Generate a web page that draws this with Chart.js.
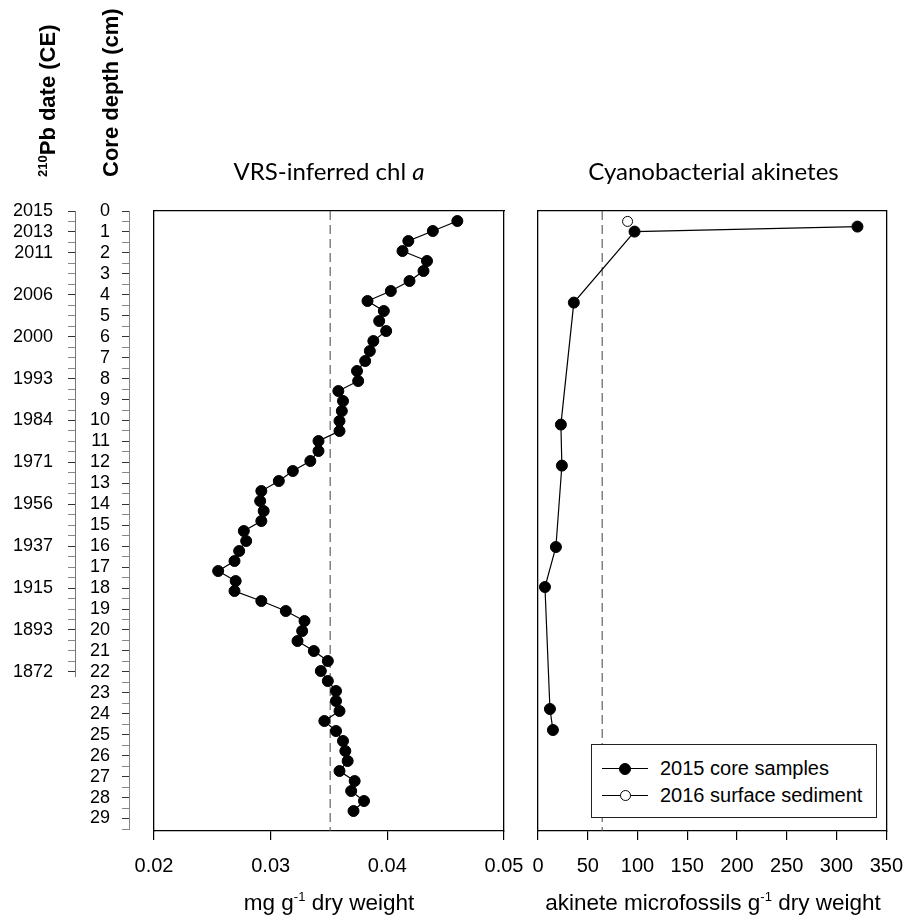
<!DOCTYPE html>
<html>
<head>
<meta charset="utf-8">
<title>VRS-inferred chl a and cyanobacterial akinetes</title>
<script src="https://cdn.jsdelivr.net/npm/chart.js@4.4.1/dist/chart.umd.min.js"></script>
<style>
    body { margin: 0; background: #fff; }
    #figure { position: relative; width: 917px; height: 920px; overflow: hidden;
              font-family: "Liberation Sans", Arial, sans-serif; color: #000; }
    #figure canvas { position: absolute; left: 0; top: 0; }
    .vlabel { position: absolute; top: 177px; transform-origin: 0 0; transform: rotate(-90deg);
              white-space: nowrap; font-weight: bold; font-size: 22px; line-height: 24px; }
    .vlabel sup { font-size: 13px; line-height: 0; vertical-align: 8px; }
    .ptitle { position: absolute; top: 156px; font-family: Lato, "Open Sans", sans-serif;
              font-size: 24px; line-height: 30px; text-align: center; white-space: nowrap; }
    .xtitle { position: absolute; top: 890px; width: 420px; font-size: 22.5px; line-height: 26px;
              text-align: center; white-space: nowrap; }
    .xtitle sup { font-size: 13px; line-height: 0; vertical-align: 9px; }
    #legend { position: absolute; left: 591px; top: 744px; width: 286px; height: 74px;
              box-sizing: border-box; border: 1px solid #222; background: #fff; padding-top: 10px; }
    .legend-row { display: flex; align-items: center; height: 27px; font-size: 20px; }
    .legend-mark { position: relative; width: 46px; height: 27px; margin: 0 12px 0 10px; }
    .legend-mark::before { content: ''; position: absolute; left: 0; right: 0; top: 13px;
                           border-top: 1.3px solid #000; }
    .legend-dot { position: absolute; border-radius: 50%; box-sizing: border-box; border: 1px solid #000; }
</style>
</head>
<body>
<div id="figure">
    <canvas id="axes-chart" width="917" height="920"></canvas>
    <canvas id="chl-chart" width="917" height="920"></canvas>
    <canvas id="akinete-chart" width="917" height="920"></canvas>

    <div class="vlabel" style="left:36px"><sup>210</sup>Pb date (CE)</div>
    <div class="vlabel" style="left:99px">Core depth (cm)</div>

    <div class="ptitle" style="left:154px; width:350px">VRS-inferred chl <i>a</i></div>
    <div class="ptitle" style="left:538px; width:351px">Cyanobacterial akinetes</div>

    <div class="xtitle" style="left:119px">mg g<sup>-1</sup> dry weight</div>
    <div class="xtitle" style="left:503px">akinete microfossils g<sup>-1</sup> dry weight</div>

    <div id="legend"></div>
</div>

<script>
"use strict";

// Core depth axis (cm) and 210Pb dates
var depthTicks = [0, 1, 2, 3, 4, 5, 6, 7, 8, 9, 10, 11, 12, 13, 14,
                  15, 16, 17, 18, 19, 20, 21, 22, 23, 24, 25, 26, 27, 28, 29];
var dateDepths = [0, 1, 2, 4, 6, 8, 10, 12, 14, 16, 18, 20, 22];
var dateLabels = ["2015", "2013", "2011", "2006", "2000", "1993", "1984",
                  "1971", "1956", "1937", "1915", "1893", "1872"];
var depthAxisMax = 29.5;
var dateAxisEnd = 22.25;

// VRS-inferred chl a (mg g-1 dry weight)
var chlDepth = [0.5, 1, 1.5, 2, 2.5, 3, 3.5, 4, 4.5, 5, 5.5, 6, 6.5, 7, 7.5,
                8, 8.5, 9, 9.5, 10, 10.5, 11, 11.5, 12, 12.5, 13, 13.5, 14, 14.5, 15,
                15.5, 16, 16.5, 17, 17.5, 18, 18.5, 19, 19.5, 20, 20.5, 21, 21.5, 22, 22.5,
                23, 23.5, 24, 24.5, 25, 25.5, 26, 26.5, 27, 27.5, 28, 28.5, 29, 29.5, 30];
var chlValue = [0.0460, 0.0439, 0.0418, 0.0413, 0.0434, 0.0431, 0.0419, 0.0403, 0.0383, 0.0397,
                0.0393, 0.0399, 0.0388, 0.0385, 0.0381, 0.0374, 0.0375, 0.0358, 0.0362, 0.0361,
                0.0359, 0.0359, 0.0341, 0.0341, 0.0334, 0.0319, 0.0307, 0.0292, 0.0291, 0.0294,
                0.0292, 0.0277, 0.0279, 0.0273, 0.0269, 0.0255, 0.0270, 0.0269, 0.0292, 0.0313,
                0.0329, 0.0327, 0.0323, 0.0337, 0.0349, 0.0343, 0.0349, 0.0356, 0.0356, 0.0359,
                0.0346, 0.0356, 0.0362, 0.0364, 0.0366, 0.0359, 0.0372, 0.0369, 0.0380, 0.0371];
var chlRef = 0.0351;
var chlTicks = [0.02, 0.03, 0.04, 0.05];

// Cyanobacterial akinetes (microfossils g-1 dry weight)
var coreDepth = [0.78, 1.03, 4.58, 10.68, 12.73, 16.8, 18.8, 24.9, 25.95];
var coreValue = [321, 97, 36, 23, 24, 18, 7, 12, 15];
var surfaceDepth = [0.52];
var surfaceValue = [90];
var akineteRef = 64.5;
var akineteTicks = [0, 50, 100, 150, 200, 250, 300, 350];

var panelDepthMax = 31;

Chart.defaults.font.family = '"Liberation Sans", Arial, sans-serif';
Chart.defaults.color = "#000";


function points(xs, ys) {
    return xs.map(function (x, i) { return { x: x, y: ys[i] }; });
}

function halfSteps(max) {
    var out = [];
    for (var i = 0; i * 0.5 <= max; i++) out.push({ value: i * 0.5 });
    return out;
}

function isLabelled(v, list) {
    return list.indexOf(v) !== -1;
}

// plain edge of the plot box
function boxSide(position, reverse, max) {
    return {
        position: position,
        min: 0,
        max: max,
        reverse: reverse,
        ticks: { display: false },
        grid: { drawOnChartArea: false, drawTicks: false },
        border: { color: "#000", width: 1.3 },
        afterFit: function (s) {
            if (s.isHorizontal()) s.height = 0; else s.width = 0;
        }
    };
}

function panelChart(id, datasets, ticks, format, left, right) {
    return new Chart(document.getElementById(id), {
        type: "scatter",
        data: { datasets: datasets },
        options: {
            responsive: false,
            animation: false,
            events: [],
            layout: { padding: { left: left, right: 917 - right, top: 211, bottom: 0 } },
            plugins: { legend: { display: false }, tooltip: { enabled: false } },
            scales: {
                x: {
                    position: "bottom",
                    min: ticks[0],
                    max: ticks[ticks.length - 1],
                    afterBuildTicks: function (s) {
                        s.ticks = ticks.map(function (v) { return { value: v }; });
                    },
                    afterFit: function (s) { s.height = 89; },
                    ticks: { autoSkip: false, maxRotation: 0, padding: 14, font: { size: 20 }, callback: format },
                    grid: { drawOnChartArea: false, tickLength: 9, color: "#000", lineWidth: 1.2 },
                    border: { color: "#000", width: 1.3 }
                },
                y: boxSide("left", true, panelDepthMax),
                xTop: boxSide("top", false, 1),
                yRight: boxSide("right", true, panelDepthMax)
            }
        }
    });
}

function refLine(value) {
    return {
        data: [{ x: value, y: 0 }, { x: value, y: panelDepthMax }],
        showLine: true,
        borderColor: "#555",
        borderWidth: 1.1,
        borderDash: [9, 5],
        pointRadius: 0
    };
}


// Date and depth axes
var dateAxisLine = {
    id: "dateAxisLine",
    afterDraw: function (chart) {
        var s = chart.scales.date;
        var ctx = chart.ctx;
        var x = Math.round(s.right) - 0.5;
        ctx.save();
        ctx.strokeStyle = "#777";
        ctx.lineWidth = 1;
        ctx.beginPath();
        ctx.moveTo(x, s.getPixelForValue(0));
        ctx.lineTo(x, s.getPixelForValue(dateAxisEnd));
        ctx.stroke();
        ctx.restore();
    }
};

new Chart(document.getElementById("axes-chart"), {
    type: "scatter",
    data: { datasets: [] },
    options: {
        responsive: false,
        animation: false,
        events: [],
        layout: { padding: { left: 0, right: 786, top: 211, bottom: 920 - 829 } },
        plugins: { legend: { display: false }, tooltip: { enabled: false } },
        scales: {
            x: { display: false, min: 0, max: 1 },
            depth: {
                position: "left",
                weight: 0,
                reverse: true,
                min: 0,
                max: depthAxisMax,
                afterBuildTicks: function (s) { s.ticks = halfSteps(depthAxisMax); },
                afterFit: function (s) { s.width = 53; },
                ticks: {
                    autoSkip: false,
                    padding: 12,
                    font: { size: 18 },
                    callback: function (v) { return isLabelled(v, depthTicks) ? String(v) : ""; }
                },
                grid: {
                    drawOnChartArea: false,
                    tickLength: 7,
                    tickColor: function (c) { return isLabelled(c.tick.value, depthTicks) ? "#333" : "#888"; }
                },
                border: { color: "#888" }
            },
            date: {
                position: "left",
                weight: 1,
                reverse: true,
                min: 0,
                max: depthAxisMax,
                afterBuildTicks: function (s) { s.ticks = halfSteps(dateDepths[dateDepths.length - 1]); },
                afterFit: function (s) { s.width = 76; },
                ticks: {
                    autoSkip: false,
                    padding: 15,
                    font: { size: 18 },
                    callback: function (v) {
                        var i = dateDepths.indexOf(v);
                        return i === -1 ? "" : dateLabels[i];
                    }
                },
                grid: {
                    drawOnChartArea: false,
                    tickLength: 8,
                    tickColor: function (c) { return isLabelled(c.tick.value, dateDepths) ? "#333" : "#888"; }
                },
                border: { display: false }
            }
        }
    },
    plugins: [dateAxisLine]
});


// VRS-inferred chl a panel
panelChart("chl-chart", [
    {
        data: points(chlValue, chlDepth),
        showLine: true,
        borderColor: "#000",
        borderWidth: 1.2,
        pointRadius: 5.5,
        pointBorderWidth: 1,
        pointBackgroundColor: "#000",
        pointBorderColor: "#000"
    },
    refLine(chlRef)
], chlTicks, function (v) { return v.toFixed(2); }, 154, 504);


// Akinete panel
var akineteChart = panelChart("akinete-chart", [
    {
        label: "2015 core samples",
        data: points(coreValue, coreDepth),
        showLine: true,
        borderColor: "#000",
        borderWidth: 1.2,
        pointRadius: 5.5,
        pointBorderWidth: 1,
        pointBackgroundColor: "#000",
        pointBorderColor: "#000"
    },
    {
        label: "2016 surface sediment",
        data: points(surfaceValue, surfaceDepth),
        showLine: false,
        pointRadius: 5,
        pointBorderWidth: 1,
        pointBackgroundColor: "#fff",
        pointBorderColor: "#000"
    },
    refLine(akineteRef)
], akineteTicks, function (v) { return String(v); }, 538, 889);


// Legend (line with marker, like the original)
var legend = document.getElementById("legend");
akineteChart.data.datasets.forEach(function (ds) {
    if (!ds.label) return;
    var row = document.createElement("div");
    row.className = "legend-row";
    var mark = document.createElement("span");
    mark.className = "legend-mark";
    var dot = document.createElement("span");
    var size = ds.pointRadius * 2 + 1;
    dot.className = "legend-dot";
    dot.style.width = size + "px";
    dot.style.height = size + "px";
    dot.style.left = (23 - size / 2) + "px";
    dot.style.top = (13.5 - size / 2) + "px";
    dot.style.background = ds.pointBackgroundColor;
    mark.appendChild(dot);
    row.appendChild(mark);
    row.appendChild(document.createTextNode(ds.label));
    legend.appendChild(row);
});
</script>
</body>
</html>
